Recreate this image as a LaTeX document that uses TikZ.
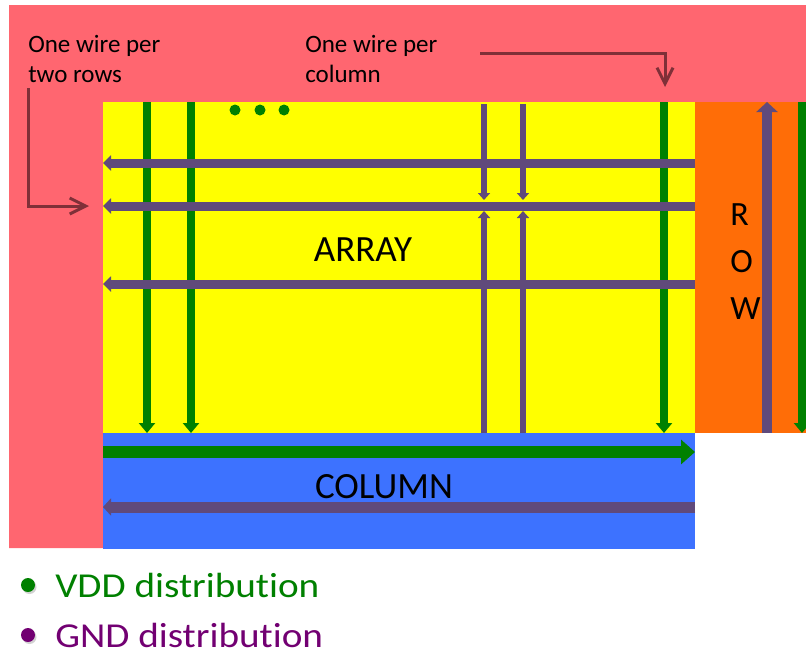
\documentclass[tikz,border=0pt]{standalone}
\usepackage{fontspec}
\setmainfont{Carlito}[Ligatures=NoCommon]
\usetikzlibrary{arrows.meta}

\definecolor{padpink}{HTML}{FF6670}
\definecolor{arrayyellow}{HTML}{FFFF00}
\definecolor{roworange}{HTML}{FF6D07}
\definecolor{colblue}{HTML}{3D72FF}
\definecolor{gndpurple}{HTML}{604A7B}
\definecolor{vddgreen}{HTML}{008000}
\definecolor{notemaroon}{HTML}{7F3038}
\definecolor{legendpurple}{HTML}{720072}

\tikzset{
  vddwire/.style={draw=vddgreen, line width=6pt,
    -{Triangle[length=7.5pt,width=12pt]}},
  vddbus/.style={draw=vddgreen, line width=9pt,
    -{Triangle[length=10.5pt,width=18pt]}},
  gndrow/.style={draw=gndpurple, line width=6.75pt,
    -{Triangle[length=6pt,width=11.25pt]}},
  gndcol/.style={draw=gndpurple, line width=4.5pt,
    -{Triangle[length=5.25pt,width=9pt]}},
  gndbus/.style={draw=gndpurple, line width=8.25pt,
    -{Triangle[length=6pt,width=12.75pt]}},
  gndriser/.style={draw=gndpurple, line width=7.5pt,
    -{Triangle[length=7.5pt,width=15.75pt]}},
  note/.style={draw=notemaroon, line width=2.25pt,
    -{Straight Barb[length=12pt,width=12pt]}},
  notetext/.style={font=\fontsize{18.75pt}{22.5pt}\selectfont, inner sep=0pt,
    anchor=base west},
  blocklabel/.style={font=\fontsize{27.75pt}{33pt}\selectfont, inner sep=0pt,
    anchor=base},
  legendtext/.style={font=\fontsize{26.25pt}{30pt}\selectfont, inner sep=0pt,
    anchor=base west},
}

\begin{document}
\begin{tikzpicture}[x=0.75pt,y=-0.75pt]
\useasboundingbox (0,0) rectangle (806,653);
\begin{scope}
\clip (0,0) rectangle (806,653);

% pad ring (L-shaped supply area)
\fill[padpink] (9,5) -- (806,5) -- (806,102) -- (103,102) -- (103,548) -- (9,548) -- cycle;

% blocks
\fill[arrayyellow] (103,102) rectangle (695,433);
\fill[roworange] (695,102) rectangle (806,433);
\fill[colblue] (103,433) rectangle (695,549);

% VDD column wires
\draw[vddwire] (147,102) -- (147,433);
\draw[vddwire] (191,102) -- (191,433);
\draw[vddwire] (664,102) -- (664,433);
\draw[vddwire] (802,102) -- (802,433);
\foreach \dx in {235,260,284}
  \fill[vddgreen] (\dx,110) circle (5.5);

% VDD bus in column periphery
\draw[vddbus] (103,452) -- (695,452);

% GND row wires
\draw[gndrow] (695,163) -- (103,163);
\draw[gndrow] (695,206) -- (103,206);
\draw[gndrow] (695,284) -- (103,284);

% GND column stubs
\draw[gndcol] (484,104) -- (484,200);
\draw[gndcol] (523,104) -- (523,200);
\draw[gndcol] (484,433) -- (484,211);
\draw[gndcol] (523,433) -- (523,211);

% GND bus in column periphery and riser in row periphery
\draw[gndbus] (695,507) -- (103,507);
\draw[gndriser] (767,433) -- (767,102);
\end{scope}

% block labels
\node[blocklabel] (arraylbl) at (363,261) {ARRAY};
\node[blocklabel] (collbl) at (384,498) {COLUMN};
\node[font=\fontsize{25.5pt}{35.25pt}\selectfont, inner sep=0pt, align=left,
      anchor=base west] (rowlbl) at (730,319) {R\\O\\W};

% callouts
\node[notetext] (note1a) at (28,52) {One wire per};
\node[notetext] (note1b) at (28,82) {two rows};
\node[notetext] (note2a) at (305,52) {One wire per};
\node[notetext] (note2b) at (305,82) {column};
\draw[note] (28,88) -- (28,206) -- (89,206);
\draw[note] (480,53) -- (665,53) -- (665,87);

% legend
\fill[black!35, opacity=0.5] (29.5,587) circle (7);
\fill[vddgreen] (28,585) circle (7);
\fill[black!35, opacity=0.5] (29.5,637) circle (7);
\fill[legendpurple] (28,635) circle (7);
\node[legendtext, text=vddgreen] (vddlbl) at (55,597) {\scalebox{1.12}[1]{VDD distribution}};
\node[legendtext, text=legendpurple] (gndlbl) at (55,647) {\scalebox{1.12}[1]{GND distribution}};
\end{tikzpicture}
\end{document}
